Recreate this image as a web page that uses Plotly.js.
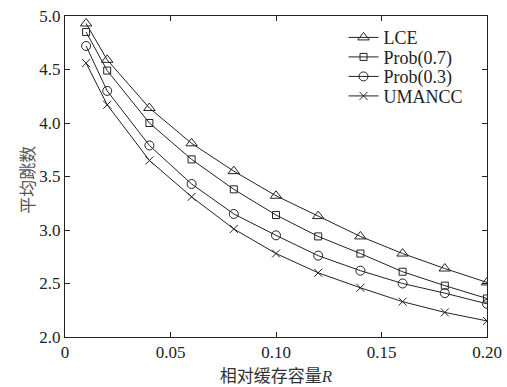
<!DOCTYPE html>
<html><head><meta charset="utf-8">
<script src="https://cdn.plot.ly/plotly-3.0.1.min.js"></script>
<style>html,body{margin:0;padding:0;background:#fff}</style>
</head><body><div id="chart" style="width:507px;height:387px"></div>
<script>
const xVals = [0.01, 0.02, 0.04, 0.06, 0.08, 0.10, 0.12, 0.14, 0.16, 0.18, 0.20];
const lce   = [4.93, 4.59, 4.14, 3.81, 3.55, 3.32, 3.13, 2.94, 2.78, 2.64, 2.51];
const prob7 = [4.85, 4.49, 4.00, 3.66, 3.38, 3.14, 2.94, 2.78, 2.61, 2.48, 2.36];
const prob3 = [4.72, 4.30, 3.79, 3.43, 3.15, 2.95, 2.76, 2.62, 2.50, 2.41, 2.31];
const umancc= [4.56, 4.17, 3.65, 3.31, 3.01, 2.78, 2.60, 2.46, 2.33, 2.23, 2.15];
const seriesNames = ["LCE", "Prob(0.7)", "Prob(0.3)", "UMANCC"];
const xTickVals = [0, 0.05, 0.10, 0.15, 0.20];
const xTickText = ["0", "0.05", "0.10", "0.15", "0.20"];
const yTickVals = [2.0, 2.5, 3.0, 3.5, 4.0, 4.5, 5.0];

const col = "#222";
const symbols = ["triangle-up-open", "square-open", "circle-open", "x-thin-open"];
const sizes = [10, 7, 9, 8];
const data = [lce, prob7, prob3, umancc].map((ys, i) => ({
  x: xVals, y: ys, name: seriesNames[i], type: "scatter", mode: "lines+markers",
  line: {color: col, width: 1},
  marker: {symbol: symbols[i], size: sizes[i], color: col, line: {color: col, width: 1}}
}));

const serif = "'Liberation Serif', 'Times New Roman', serif";
const cjk = "'Noto Sans CJK SC', 'Liberation Serif', serif";
const layout = {
  width: 507, height: 387,
  margin: {l: 65, r: 20, t: 16, b: 50},
  paper_bgcolor: "#fff", plot_bgcolor: "#fff",
  font: {family: serif, size: 16, color: "#222"},
  showlegend: true,
  legend: {x: 0.66, y: 0.99, xanchor: "left", yanchor: "top", bgcolor: "rgba(0,0,0,0)",
    font: {family: serif, size: 18, color: "#222"}, itemwidth: 30, tracegroupgap: 0},
  xaxis: {range: [0, 0.2], tickvals: xTickVals, ticktext: xTickText, ticks: "inside", ticklen: 5,
    tickcolor: "#222", showline: true, linecolor: "#222", linewidth: 1, mirror: "ticks",
    showgrid: false, zeroline: false, tickfont: {family: serif, size: 17, color: "#222"},
    title: {text: "相对缓存容量<i style='font-family:Liberation Serif'>R</i>", font: {family: cjk, size: 17, color: "#333"}, standoff: 4}},
  yaxis: {range: [2, 5], tickvals: yTickVals, tickformat: ".1f", ticks: "inside", ticklen: 5,
    tickcolor: "#222", showline: true, linecolor: "#222", linewidth: 1, mirror: "ticks",
    showgrid: false, zeroline: false, tickfont: {family: serif, size: 17, color: "#222"}},
  annotations: [{text: "平均跳数", xref: "paper", yref: "paper", x: 0, y: 0.49, xanchor: "center", yanchor: "middle",
    xshift: -38, textangle: -90, showarrow: false, font: {family: cjk, size: 17, color: "#555"}}]
};
Plotly.newPlot("chart", data, layout, {displayModeBar: false, staticPlot: true}).then(gd => {
  const items = gd.querySelectorAll('.legend .traces');
  let y0 = null;
  items.forEach((t, i) => {
    const m = /translate\(([-\d.]+),\s*([-\d.]+)\)/.exec(t.getAttribute('transform') || '');
    if (!m) return;
    if (y0 === null) y0 = parseFloat(m[2]);
    t.setAttribute('transform', 'translate(' + m[1] + ',' + (y0 + i * 19.5) + ')');
  });
});
</script></body></html>
